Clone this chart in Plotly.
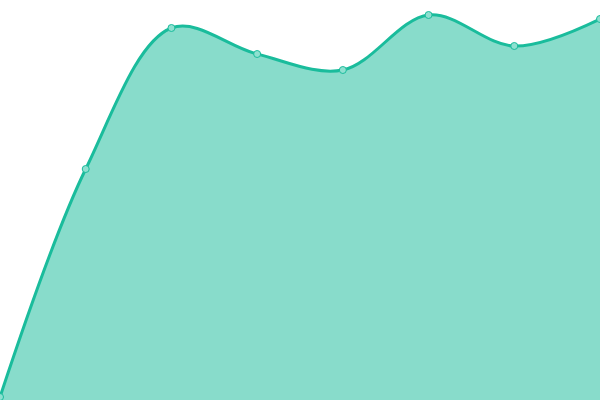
import plotly.graph_objects as go

# valores (escala 0-400)
categorias = [0, 1, 2, 3, 4, 5, 6, 7]
valores = [3, 231, 372, 346, 330, 385, 354, 381]

fig = go.Figure()
fig.add_trace(go.Scatter(
    x=categorias,
    y=valores,
    mode='lines+markers',
    line=dict(color='#1abc9c', width=3, shape='spline', smoothing=1),
    fill='tozeroy',
    fillcolor='rgba(26,188,156,0.52)',
    marker=dict(size=7, color='#8ee0d0', line=dict(color='#1abc9c', width=1)),
    cliponaxis=False,
    hoverinfo='x+y',
))
fig.update_layout(
    width=600,
    height=400,
    margin=dict(l=0, r=0, t=0, b=0),
    paper_bgcolor='white',
    plot_bgcolor='white',
    showlegend=False,
)
fig.update_xaxes(visible=False, range=[0, 7])
fig.update_yaxes(visible=False, range=[0, 400])
# tira a margem padrao do body para o grafico ocupar a janela toda
fig.write_html(
    'out.html',
    config={'displayModeBar': False},
    post_script="document.body.style.margin = '0px';",
)
